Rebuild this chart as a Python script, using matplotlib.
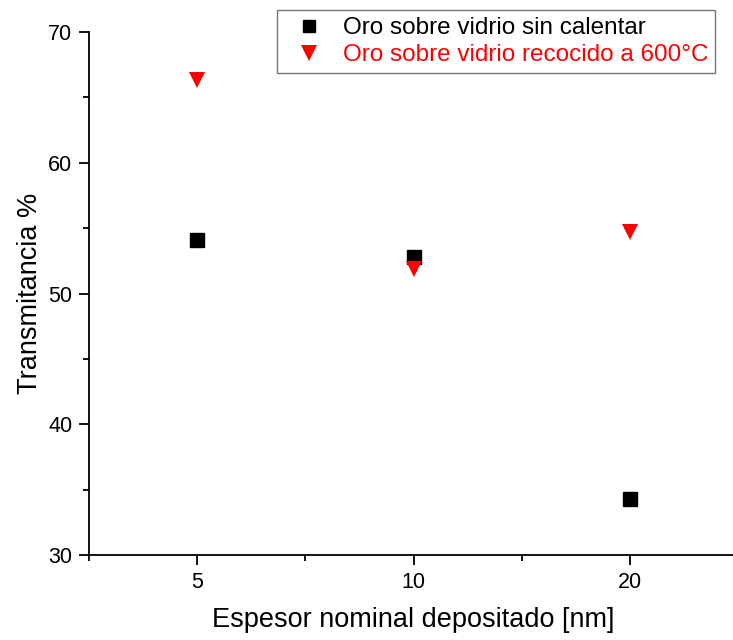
import matplotlib
matplotlib.use("Agg")
import matplotlib.pyplot as plt
from matplotlib.ticker import MultipleLocator, FixedLocator

plt.rcParams['font.family'] = ['Liberation Sans', 'DejaVu Sans']

thickness_labels = ["5", "10", "20"]
unheated = [54.1, 52.8, 34.3]
annealed = [66.3, 51.9, 54.7]

series_unheated = "Oro sobre vidrio sin calentar"
series_annealed = "Oro sobre vidrio recocido a 600°C"

fig = plt.figure(figsize=(7.33, 6.40), dpi=100)
ax = fig.add_axes([89 / 733, 1 - 555 / 640, (738 - 89) / 733, (555 - 32) / 640])

x = list(range(len(thickness_labels)))
ax.plot(x, unheated, linestyle='none', marker='s', markersize=9.5,
        color='black', label=series_unheated)
ax.plot(x, annealed, linestyle='none', marker='v', markersize=12,
        color='red', markeredgewidth=0, label=series_annealed)

ax.set_xlim(-0.5, 2.5)
ax.set_ylim(30, 70)
ax.set_xticks(x)
ax.set_xticklabels(thickness_labels)
ax.xaxis.set_minor_locator(FixedLocator([-0.5, 0.5, 1.5, 2.5]))
ax.yaxis.set_major_locator(MultipleLocator(10))
ax.yaxis.set_minor_locator(MultipleLocator(5))

for side in ('top', 'right'):
    ax.spines[side].set_visible(False)
for side in ('left', 'bottom'):
    ax.spines[side].set_linewidth(1.3)

ax.tick_params(which='major', direction='out', length=7, width=1.3,
               labelsize=15.5, pad=5)
ax.tick_params(which='minor', direction='out', length=4, width=1.3)

ax.set_xlabel("Espesor nominal depositado [nm]", fontsize=19.5, labelpad=10)
ax.set_ylabel("Transmitancia %", fontsize=19.5, labelpad=4)

leg = ax.legend(loc='upper left', bbox_to_anchor=(277 / 733, 1 - 10 / 640),
                bbox_transform=fig.transFigure, fontsize=17.5, frameon=True,
                fancybox=False, edgecolor='#555555', borderpad=0.3,
                handletextpad=0.4, handlelength=2.0, labelspacing=0.2,
                borderaxespad=0, markerscale=0.95)
leg.get_frame().set_linewidth(1.0)
for txt, col in zip(leg.get_texts(), ['black', 'red']):
    txt.set_color(col)

fig.savefig("out.png", dpi=100)
